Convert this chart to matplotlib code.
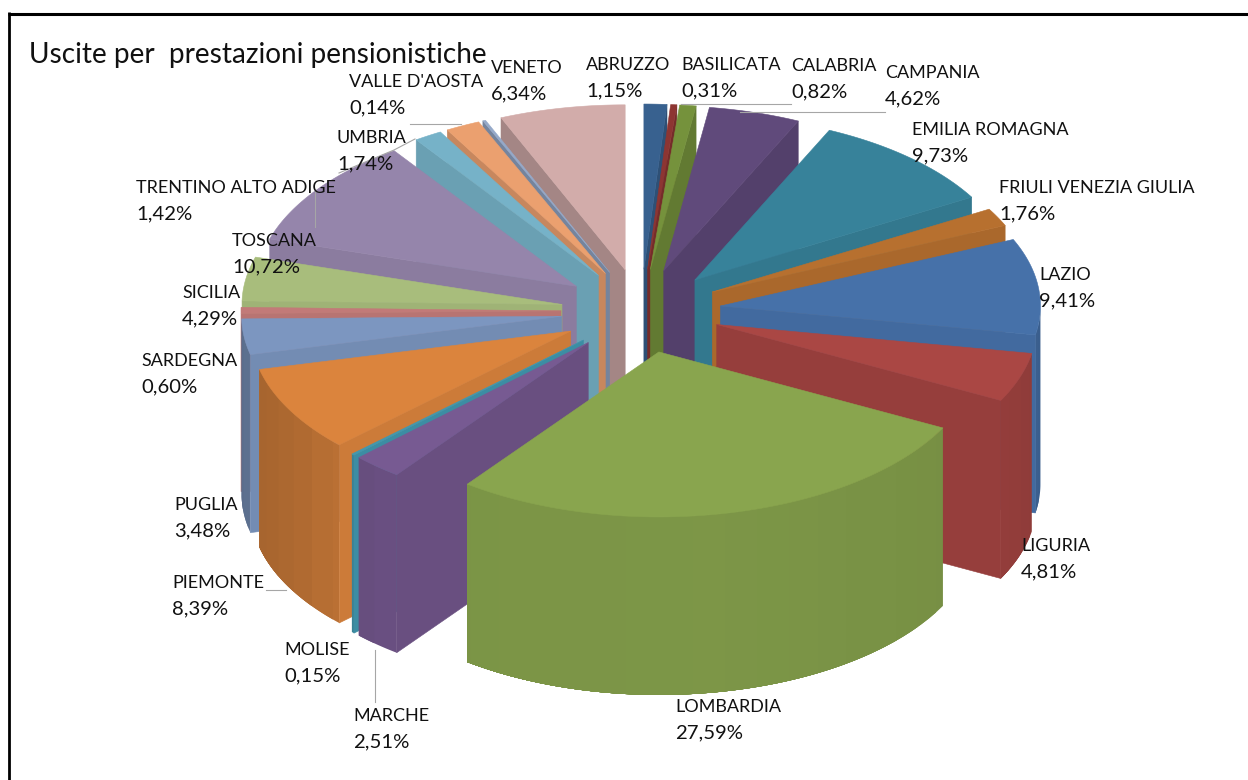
import numpy as np
import matplotlib
matplotlib.use("Agg")
import matplotlib.pyplot as plt
from matplotlib.colors import to_rgb

TITLE = "Uscite per  prestazioni pensionistiche"
regions = ["ABRUZZO", "BASILICATA", "CALABRIA", "CAMPANIA", "EMILIA ROMAGNA",
           "FRIULI VENEZIA GIULIA", "LAZIO", "LIGURIA", "LOMBARDIA", "MARCHE",
           "MOLISE", "PIEMONTE", "PUGLIA", "SARDEGNA", "SICILIA", "TOSCANA",
           "TRENTINO ALTO ADIGE", "UMBRIA", "VALLE D'AOSTA", "VENETO"]
shares = [1.15, 0.31, 0.82, 4.62, 9.73, 1.76, 9.41, 4.81, 27.59, 2.51,
          0.15, 8.39, 3.48, 0.60, 4.29, 10.72, 1.42, 1.74, 0.14, 6.34]
colors = ["#38618f", "#8d3532", "#75923c", "#604a7b", "#37829a", "#b7702f", "#4671a9",
          "#aa4744", "#89a54e", "#775a92", "#4198af", "#db843d", "#7c96c0", "#c27a78",
          "#a8bd7c", "#9585ab", "#76b2c8", "#eba06f", "#95a9c9", "#d2acaa"]

# layout of the labels: left edge, centre of first line (pixels)
label_pos = {"ABRUZZO": (586, 65), "BASILICATA": (681, 65), "CALABRIA": (791, 66),
             "CAMPANIA": (885, 73), "EMILIA ROMAGNA": (912, 130),
             "FRIULI VENEZIA GIULIA": (999, 188), "LAZIO": (1039, 275),
             "LIGURIA": (1021, 546), "LOMBARDIA": (675, 707), "MARCHE": (353, 716),
             "MOLISE": (284, 650), "PIEMONTE": (172, 583), "PUGLIA": (174, 505),
             "SARDEGNA": (141, 361), "SICILIA": (182, 293), "TOSCANA": (232, 241),
             "TRENTINO ALTO ADIGE": (136, 188), "UMBRIA": (337, 138),
             "VALLE D'AOSTA": (349, 82), "VENETO": (491, 68)}
leaders = [((681, 791), (104, 104)), ((740, 885), (112, 112)), ((410, 461), (124, 124)),
           ((415, 394, 339), (139, 150, 173)), ((315, 315), (190, 227)),
           ((266, 286), (590, 590)), ((375, 375), (650, 702))]

CX, CY, RX, RY, EX, EY, DEPTH = 641, 311, 320, 165, 80, 42, 178


def shade(c, f):
    return tuple(min(1, v * f) for v in to_rgb(c))


def radial_shade(a):
    a = a % 360
    return np.interp(a, [0, 25, 60, 66, 100, 117, 217, 226, 256, 270, 287, 325, 337, 360],
                     [.82, .87, .92, .93, .94, .88, .88, .93, .93, .95, .93, .90, .78, .80])


def arc_shade(a):
    a = a % 360
    return np.interp(a, [60, 100, 120, 170, 215, 225, 240, 256, 270],
                     [.80, .84, .87, .91, .90, .86, .79, .76, .72])


fig = plt.figure(figsize=(12.48, 7.8), dpi=100, facecolor="white")
ax = fig.add_axes([0, 0, 1, 1])
ax.set_xlim(0, 1248)
ax.set_ylim(780, 0)
ax.axis("off")

vals = np.array(shares)
edges = np.concatenate([[0], np.cumsum(vals)]) / vals.sum() * 360
slices = []
for i in range(len(vals)):
    a0, a1 = edges[i], edges[i + 1]
    mid = np.radians((a0 + a1) / 2)
    slices.append((np.cos(mid), i, a0, a1, mid))
slices.sort(key=lambda s: -s[0])


def poly(xs, ys, col, z, lw=0.4):
    ax.fill(xs, ys, facecolor=col, edgecolor=col, linewidth=lw, zorder=z, joinstyle="round")


z = 1
STRIP = 6.0
for _, i, a0, a1, mid in slices:
    tx = CX + EX * np.sin(mid)
    ty = CY - EY * np.cos(mid)
    th = np.radians(np.linspace(a0, a1, max(3, int((a1 - a0) * 2) + 2)))
    ox = tx + RX * np.sin(th)
    oy = ty - RY * np.cos(th)
    col = colors[i]

    # outer cylinder wall: each strip runs on to the slice's end and the next one
    # is painted over it, so no seam can show between neighbours
    first = max(a0, 90.0)
    last = min(a1, 270.0)
    if last > first:
        stops = np.r_[first, np.arange(np.ceil(first / STRIP) * STRIP, last, STRIP), last]
        for k, (s0, s1) in enumerate(zip(stops[:-1], stops[1:])):
            if s1 - s0 < 1e-6:
                continue
            t = np.radians(np.linspace(s0, last, 40))
            sx, sy = tx + RX * np.sin(t), ty - RY * np.cos(t)
            f = arc_shade((s0 + s1) / 2)
            ax.fill(np.r_[sx, sx[::-1]], np.r_[sy, sy[::-1] + DEPTH], facecolor=shade(col, f),
                    edgecolor="none", zorder=z + k)
        z += len(stops)

    # a flat side shows only when it faces the viewer
    for a, show in ((a0, np.sin(np.radians(a0)) < 0), (a1, np.sin(np.radians(a1)) > 0)):
        if show:
            r = np.radians(a)
            px, py = tx + RX * np.sin(r), ty - RY * np.cos(r)
            poly([tx, px, px, tx], [ty, py, py + DEPTH, ty + DEPTH],
                 shade(col, radial_shade(a)), z)
            z += 1
    poly(np.r_[tx, ox], np.r_[ty, oy], col, z)
    z += 1

for xs, ys in leaders:
    ax.plot(xs, ys, color="#a6a6a6", lw=0.8, zorder=z)
z += 1

for name, v in zip(regions, shares):
    x, y = label_pos[name]
    ax.text(x, y, name, fontsize=13.0, family="Lato", color="#111111", va="center", ha="left", zorder=z)
    ax.text(x, y + 26, f"{v:.2f}%".replace(".", ","), fontsize=14.6, family="Lato",
            color="#111111", va="center", ha="left", zorder=z)

ax.text(29, 55, TITLE, fontsize=20.15, family="Lato", color="#111111", va="center", ha="left", zorder=z)
ax.plot([8.5, 8.5], [12, 780], color="#000000", lw=2.0, solid_capstyle="butt", zorder=z)
ax.plot([7.5, 1248], [13.5, 13.5], color="#000000", lw=2.2, solid_capstyle="butt", zorder=z)

fig.savefig("out.png", dpi=100)
